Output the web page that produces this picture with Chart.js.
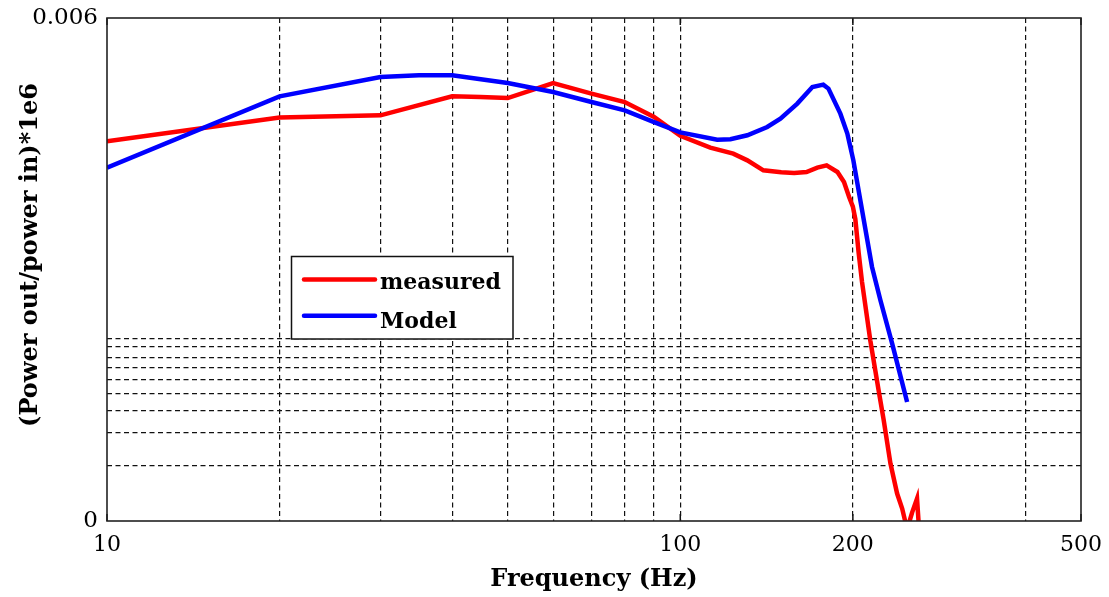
<!DOCTYPE html>
<html><head><meta charset="utf-8">
<script src="https://cdn.jsdelivr.net/npm/chart.js@4.4.0/dist/chart.umd.min.js"></script>
<style>html,body{margin:0;padding:0;background:#fff;} canvas{display:block;}</style>
</head><body>
<canvas id="c" width="1109" height="597"></canvas>
<script>
const measuredFreq  = [10, 20, 30, 40, 44.8, 50, 60, 70, 80, 90, 100, 112.8, 123.7, 130.9, 139.6, 150, 158, 166, 173.4, 180, 188, 193, 197, 200, 202, 204.7, 207.5, 214.5, 221.8, 226.4, 232.6, 238.9, 243.8, 248.7, 253.7, 258.8, 261.5];
const measuredPower = [0.004529, 0.004812, 0.004839, 0.005066, 0.005058, 0.005045, 0.005224, 0.005098, 0.004998, 0.004819, 0.004595, 0.004454, 0.004382, 0.004302, 0.004183, 0.00416, 0.004151, 0.004163, 0.004215, 0.004243, 0.004163, 0.004044, 0.003865, 0.00375, 0.0036, 0.0032, 0.00285, 0.002155, 0.001559, 0.001201, 0.000685, 0.000327, 0.000148, -0.0001, 0.0001, 0.000267, -0.0002];
const modelFreq  = [10, 20, 30, 35, 40, 50, 60, 70, 80, 90, 100, 116, 122.3, 130.9, 141.8, 149.5, 160, 170, 177.6, 181.3, 190.2, 195.6, 198, 200.4, 206.1, 216, 223.4, 234.2, 248.7];
const modelPower = [0.004215, 0.005066, 0.005296, 0.005316, 0.005316, 0.005224, 0.005117, 0.004998, 0.004899, 0.004759, 0.004635, 0.004549, 0.004553, 0.004601, 0.0047, 0.0048, 0.004979, 0.005177, 0.005205, 0.005158, 0.004859, 0.004621, 0.00446, 0.004302, 0.003825, 0.00303, 0.002633, 0.002116, 0.001419];

const xGridTicks  = [10, 20, 30, 40, 50, 60, 70, 80, 90, 100, 200, 400, 500];
const xTickLabels = [10, 100, 200, 500];
const yGridTicks  = [0, 0.000656, 0.00105, 0.00132, 0.00152, 0.001687, 0.001825, 0.001949, 0.002076, 0.002176, 0.006];
const yTickLabels = [0, 0.006];

const seriesNames  = ['measured', 'Model'];
const seriesColors = ['#ff0000', '#0000ff'];
const xTitle = 'Frequency (Hz)';
const yTitle = '(Power out/power in)*1e6';

const SERIF = '"DejaVu Serif", "Liberation Serif", serif';

function toPoints(xs, ys) { return xs.map((x, i) => ({x: x, y: ys[i]})); }

const framePlugin = {
  id: 'frame',
  afterDatasetsDraw(chart) {
    const ctx = chart.ctx;
    const a = chart.chartArea;
    const xs = chart.scales.x;
    ctx.save();
    ctx.strokeStyle = '#111';
    ctx.lineWidth = 1.5;
    xTickLabels.forEach(v => {
      const px = xs.getPixelForValue(v);
      ctx.beginPath();
      ctx.moveTo(px, a.bottom); ctx.lineTo(px, a.bottom - 7);
      ctx.moveTo(px, a.top); ctx.lineTo(px, a.top + 7);
      ctx.stroke();
    });
    ctx.strokeStyle = '#222';
    ctx.lineWidth = 1.6;
    ctx.strokeRect(a.left, a.top, a.right - a.left, a.bottom - a.top);

    // legend box
    const bx = 291.5, by = 256.5, bw = 221.5, bh = 82.5;
    ctx.fillStyle = '#fff';
    ctx.fillRect(bx, by, bw, bh);
    ctx.strokeStyle = '#111';
    ctx.lineWidth = 1.5;
    ctx.strokeRect(bx, by, bw, bh);
    const rows = [279.5, 315.7];
    const bases = [289, 327.5];
    chart.data.datasets.forEach((ds, i) => {
      ctx.strokeStyle = ds.borderColor;
      ctx.lineWidth = 4.5;
      ctx.lineCap = 'round';
      ctx.beginPath();
      ctx.moveTo(304, rows[i]); ctx.lineTo(375, rows[i]);
      ctx.stroke();
      ctx.fillStyle = '#000';
      ctx.font = 'bold 22px ' + SERIF;
      ctx.textAlign = 'left';
      ctx.textBaseline = 'alphabetic';
      ctx.fillText(ds.label, 380, bases[i]);
    });

    // y axis title
    ctx.save();
    ctx.translate(31, 255);
    ctx.rotate(-Math.PI / 2);
    ctx.fillStyle = '#000';
    ctx.font = 'bold 24px ' + SERIF;
    ctx.textAlign = 'center';
    ctx.textBaseline = 'middle';
    ctx.fillText(yTitle, 0, 0);
    ctx.restore();
    ctx.restore();
  }
};

new Chart(document.getElementById('c'), {
  type: 'line',
  data: {
    datasets: [
      { label: seriesNames[0], data: toPoints(measuredFreq, measuredPower), borderColor: seriesColors[0], backgroundColor: seriesColors[0], borderWidth: 4.5, pointRadius: 0, tension: 0, clip: 0, order: 1 },
      { label: seriesNames[1], data: toPoints(modelFreq, modelPower), borderColor: seriesColors[1], backgroundColor: seriesColors[1], borderWidth: 4.5, pointRadius: 0, tension: 0, clip: 0, order: 0 }
    ]
  },
  options: {
    responsive: false,
    animation: false,
    devicePixelRatio: 1,
    layout: { padding: { top: 18, right: 28, bottom: 0, left: 0 } },
    plugins: { legend: { display: false }, tooltip: { enabled: false } },
    scales: {
      x: {
        type: 'logarithmic',
        min: 10, max: 500,
        afterBuildTicks: s => { s.ticks = xGridTicks.map(v => ({ value: v })); },
        afterFit: s => { s.height = 76; s.paddingLeft = 0; s.paddingRight = 0; },
        ticks: {
          autoSkip: false, maxRotation: 0, minRotation: 0, padding: 11,
          color: '#000', font: { family: SERIF, size: 22 },
          callback: v => xTickLabels.includes(v) ? String(v) : ''
        },
        grid: {
          drawTicks: false, lineWidth: 1.2,
          color: c => (c.tick && (c.tick.value === 10 || c.tick.value === 500)) ? 'rgba(0,0,0,0)' : '#111'
        },
        border: { display: false, dash: [5, 3.5] },
        title: { display: true, text: xTitle, color: '#000', font: { family: SERIF, size: 24, weight: 'bold' }, padding: { top: 0, bottom: 3 } }
      },
      y: {
        type: 'linear',
        min: 0, max: 0.006,
        afterBuildTicks: s => { s.ticks = yGridTicks.map(v => ({ value: v })); },
        afterFit: s => { s.width = 107; s.paddingTop = 0; s.paddingBottom = 0; },
        ticks: {
          autoSkip: false, padding: 9,
          color: '#000', font: { family: SERIF, size: 23 },
          callback: v => yTickLabels.includes(v) ? String(v) : ''
        },
        grid: {
          drawTicks: false, lineWidth: 1.2,
          color: c => (c.tick && (c.tick.value === 0 || c.tick.value === 0.006)) ? 'rgba(0,0,0,0)' : '#111'
        },
        border: { display: false, dash: [5, 3.5] },
        title: { display: false }
      }
    }
  },
  plugins: [framePlugin]
});
</script>
</body></html>
